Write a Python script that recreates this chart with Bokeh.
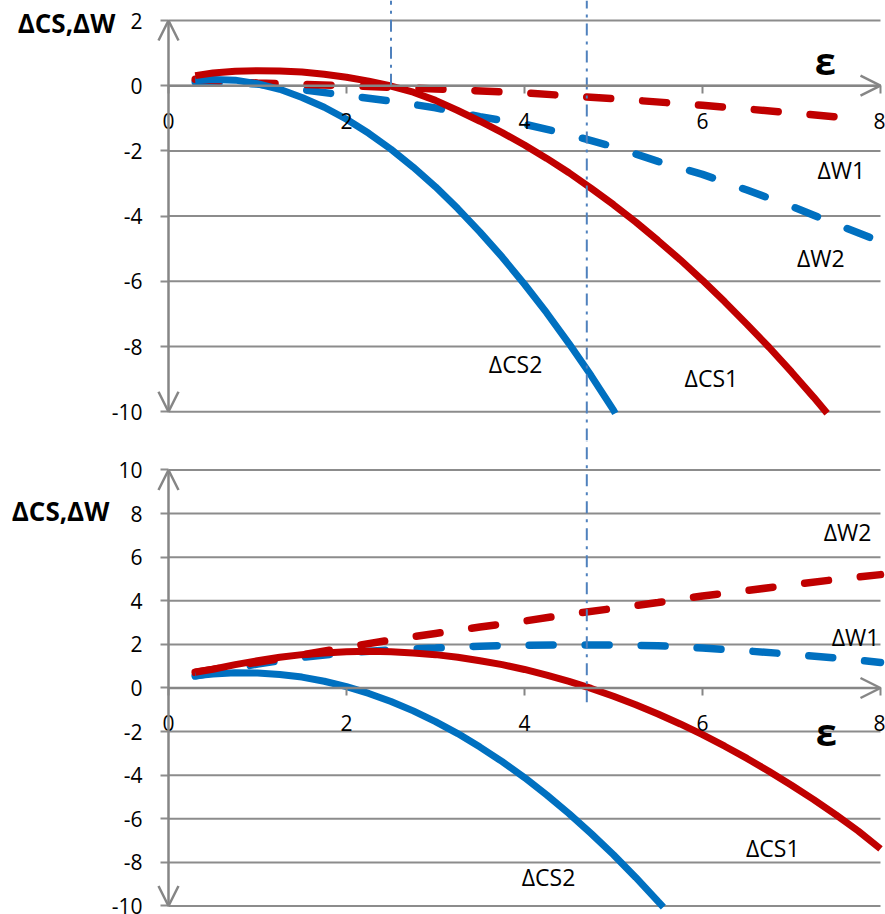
from bokeh.plotting import figure
from bokeh.models import Range1d, LinearAxis, FixedTicker, Arrow, OpenHead, Label
from bokeh.layouts import column
from bokeh.embed import file_html
from bokeh.resources import INLINE

# ---------------- data ----------------
eps_ticks = [0, 2, 4, 6, 8]
top_y_ticks = [2, 0, -2, -4, -6, -8, -10]
bot_y_ticks = [10, 8, 6, 4, 2, 0, -2, -4, -6, -8, -10]

# top panel
top_cs1_x = [0.3, 0.5, 0.75, 1.0, 1.25, 1.5, 1.75, 2.0, 2.25, 2.5, 2.75, 3.0, 3.25, 3.5, 3.75, 4.0,
             4.25, 4.5, 4.75, 5.0, 5.25, 5.5, 5.75, 6.0, 6.25, 6.5, 6.75, 7.0, 7.25, 7.4]
top_cs1_y = [0.31, 0.39, 0.44, 0.46, 0.45, 0.42, 0.35, 0.26, 0.14, -0.01, -0.20, -0.45, -0.76, -1.09, -1.44, -1.82,
             -2.23, -2.67, -3.15, -3.65, -4.18, -4.75, -5.34, -5.97, -6.63, -7.32, -8.03, -8.78, -9.56, -10.05]
top_cs2_x = [0.3, 0.5, 0.75, 1.0, 1.25, 1.5, 1.75, 2.0, 2.25, 2.5, 2.75, 3.0, 3.25, 3.5, 3.75, 4.0,
             4.25, 4.5, 4.75, 5.0, 5.02]
top_cs2_y = [0.16, 0.19, 0.17, 0.06, -0.11, -0.36, -0.66, -1.03, -1.46, -1.95, -2.50, -3.10, -3.77, -4.49, -5.26, -6.09,
             -6.97, -7.91, -8.90, -9.95, -10.05]
top_w1_x = [0.3, 1.0, 2.0, 3.0, 4.0, 5.0, 6.0, 7.0, 7.6]
top_w1_y = [0.20, 0.08, 0.0, -0.10, -0.22, -0.40, -0.60, -0.83, -0.98]
top_w2_x = [0.3, 1.0, 1.5, 2.0, 2.5, 3.0, 3.5, 4.0, 4.5, 5.0, 5.5, 6.0, 6.5, 7.0, 7.5, 8.0]
top_w2_y = [0.12, 0.05, -0.12, -0.30, -0.47, -0.68, -0.95, -1.18, -1.50, -1.87, -2.32, -2.72, -3.20, -3.70, -4.25, -4.78]

# bottom panel
bot_cs1_x = [0.3, 0.5, 0.75, 1.0, 1.25, 1.5, 1.75, 2.0, 2.25, 2.5, 2.75, 3.0, 3.25, 3.5, 3.75, 4.0,
             4.25, 4.5, 4.75, 5.0, 5.25, 5.5, 5.75, 6.0, 6.25, 6.5, 6.75, 7.0, 7.25, 7.5, 7.75, 8.0]
bot_cs1_y = [0.72, 0.86, 1.07, 1.25, 1.41, 1.53, 1.61, 1.66, 1.68, 1.66, 1.61, 1.53, 1.41, 1.25, 1.07, 0.85,
             0.59, 0.30, -0.02, -0.38, -0.77, -1.19, -1.65, -2.14, -2.67, -3.23, -3.83, -4.46, -5.12, -5.82, -6.56, -7.38]
bot_cs2_x = [0.3, 0.5, 0.75, 1.0, 1.25, 1.5, 1.75, 2.0, 2.25, 2.5, 2.75, 3.0, 3.25, 3.5, 3.75, 4.0,
             4.25, 4.5, 4.75, 5.0, 5.25, 5.5, 5.56]
bot_cs2_y = [0.56, 0.64, 0.70, 0.69, 0.62, 0.50, 0.31, 0.06, -0.25, -0.62, -1.05, -1.54, -2.09, -2.71, -3.38, -4.11,
             -4.91, -5.76, -6.68, -7.65, -8.69, -9.79, -10.05]
bot_w1_x = [0.3, 1.0, 1.5, 2.0, 2.5, 3.0, 3.5, 4.0, 4.5, 5.0, 5.5, 6.0, 6.5, 7.0, 7.5, 8.0]
bot_w1_y = [0.55, 1.10, 1.40, 1.62, 1.75, 1.83, 1.92, 1.96, 1.98, 1.97, 1.94, 1.83, 1.70, 1.55, 1.38, 1.17]
bot_w2_x = [0.3, 1.0, 1.5, 2.0, 2.5, 3.0, 3.5, 4.0, 4.5, 5.0, 5.5, 6.0, 6.5, 7.0, 7.5, 8.0]
bot_w2_y = [0.72, 1.18, 1.52, 1.87, 2.20, 2.50, 2.80, 3.07, 3.38, 3.65, 3.92, 4.22, 4.47, 4.73, 4.98, 5.20]

# reference (dash-dot) lines
ref_eps_a = 2.5
ref_eps_b = 4.7
ref_b_bottom_end = -0.65

# ---------------- styling ----------------
RED = "#C00000"
BLUE = "#0070C0"
GRID = "#8C8C8C"
AXIS = "#868686"
REF = "#4F81BD"
FONT = "Open Sans"

X0, X1 = -1.8876, 8.0562
TOP_Y = (-10.883, 2.6135)
BOT_Y = (-10.39, 11.353)


def make_fig(height, yr, yticks):
    p = figure(width=885, height=height, x_range=Range1d(X0, X1), y_range=Range1d(*yr),
               output_backend="svg", toolbar_location=None,
               x_axis_location=None, y_axis_location=None,
               min_border_left=0, min_border_right=0, min_border_top=0, min_border_bottom=0)
    p.outline_line_color = None
    p.background_fill_color = "white"
    p.border_fill_color = "white"
    p.xgrid.visible = False
    p.ygrid.visible = False

    # horizontal grid lines from x=0 to the end of the eps axis
    p.segment(x0=[0] * len(yticks), y0=yticks, x1=[eps_ticks[-1]] * len(yticks), y1=yticks,
              line_color=GRID, line_width=2)

    ya = LinearAxis(fixed_location=0, ticker=FixedTicker(ticks=yticks))
    ya.axis_line_color = None
    ya.major_tick_in = 0
    ya.major_tick_out = 8
    ya.major_tick_line_color = GRID
    ya.major_tick_line_width = 2
    ya.minor_tick_line_color = None
    ya.major_label_standoff = 18
    ya.major_label_text_font = FONT
    ya.major_label_text_font_size = "21px"
    ya.major_label_text_color = "black"
    ya.major_label_overrides = {t: str(t) for t in yticks}
    p.add_layout(ya, "left")

    xa = LinearAxis(fixed_location=0, ticker=FixedTicker(ticks=eps_ticks))
    xa.axis_line_color = None
    xa.major_tick_in = 0
    xa.major_tick_out = 8
    xa.major_tick_line_color = AXIS
    xa.major_tick_line_width = 2
    xa.minor_tick_line_color = None
    xa.major_label_standoff = 19
    xa.major_label_text_font = FONT
    xa.major_label_text_font_size = "21px"
    xa.major_label_text_color = "black"
    p.add_layout(xa, "below")
    return p


def axes_arrows(p, ybot, ytop):
    p.add_layout(Arrow(end=OpenHead(size=20, line_color=AXIS, line_width=2.5),
                       x_start=0, y_start=0, x_end=eps_ticks[-1], y_end=0,
                       line_color=AXIS, line_width=2.5))
    p.add_layout(Arrow(start=OpenHead(size=20, line_color=AXIS, line_width=2.5),
                       end=OpenHead(size=20, line_color=AXIS, line_width=2.5),
                       x_start=0, y_start=ybot, x_end=0, y_end=ytop,
                       line_color=AXIS, line_width=2.5))


def lbl(p, x, y, text, size="23px", bold=False, align="center"):
    p.add_layout(Label(x=x, y=y, text=text, text_font=FONT, text_font_size=size,
                       text_font_style="bold" if bold else "normal",
                       text_align=align, text_baseline="middle", text_color="black"))


dash = dict(line_width=7.5, line_dash="24 32", line_cap="round")
solid = dict(line_width=7)
refstyle = dict(line_color=REF, line_width=2, line_dash="12 6 3 6")

# ---------------- top panel ----------------
top = make_fig(440, TOP_Y, top_y_ticks)
axes_arrows(top, top_y_ticks[-1], top_y_ticks[0])
top.line(top_w2_x, top_w2_y, line_color=BLUE, **dash)
top.line(top_w1_x, top_w1_y, line_color=RED, **dash)
top.line(top_cs2_x, top_cs2_y, line_color=BLUE, **solid)
top.line(top_cs1_x, top_cs1_y, line_color=RED, **solid)
top.line([ref_eps_a, ref_eps_a], [0, TOP_Y[1]], **refstyle)
top.line([ref_eps_b, ref_eps_b], [TOP_Y[0], TOP_Y[1]], **refstyle)

lbl(top, -1.146, 1.91, "ΔCS,ΔW", size="26px", bold=True)
lbl(top, 7.38, 0.80, "ε", size="38px", bold=True)
lbl(top, 7.56, -2.6, "ΔW1")
lbl(top, 7.33, -5.27, "ΔW2")
lbl(top, 6.10, -8.98, "ΔCS1")
lbl(top, 3.90, -8.55, "ΔCS2")

# ---------------- bottom panel ----------------
bot = make_fig(474, BOT_Y, bot_y_ticks)
axes_arrows(bot, bot_y_ticks[-1], bot_y_ticks[0])
bot.line(bot_w1_x, bot_w1_y, line_color=BLUE, **dash)
bot.line(bot_w2_x, bot_w2_y, line_color=RED, **dash)
bot.line(bot_cs2_x, bot_cs2_y, line_color=BLUE, **solid)
bot.line(bot_cs1_x, bot_cs1_y, line_color=RED, **solid)
bot.line([ref_eps_b, ref_eps_b], [ref_b_bottom_end, BOT_Y[1]], **refstyle)

lbl(bot, -1.213, 8.1, "ΔCS,ΔW", size="26px", bold=True)
lbl(bot, 7.39, -1.95, "ε", size="38px", bold=True)
lbl(bot, 7.63, 7.14, "ΔW2")
lbl(bot, 7.72, 2.32, "ΔW1")
lbl(bot, 6.79, -7.36, "ΔCS1")
lbl(bot, 4.27, -8.65, "ΔCS2")

layout = column(top, bot, spacing=0)
open("out.html", "w").write(file_html(layout, INLINE))
